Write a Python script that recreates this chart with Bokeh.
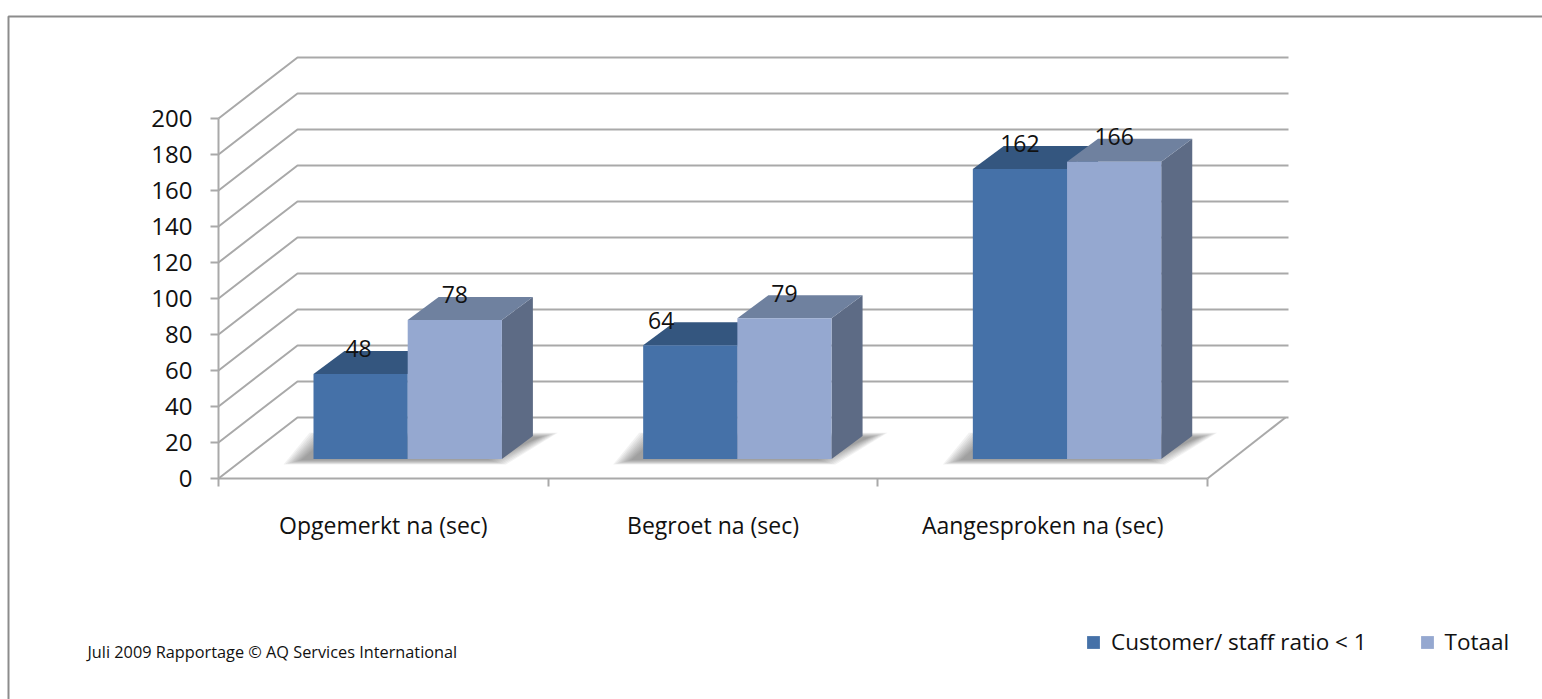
from bokeh.core.properties import value
from bokeh.embed import file_html
from bokeh.models import (BoxAnnotation, ColumnDataSource, FixedTicker, Label, Legend,
                          LegendItem, Range1d)
from bokeh.plotting import figure
from bokeh.resources import INLINE

# Chart values
categories = ["Opgemerkt na (sec)", "Begroet na (sec)", "Aangesproken na (sec)"]
series_names = ["Customer/ staff ratio < 1", "Totaal"]
customer_staff = [48, 64, 162]
totaal = [78, 79, 166]
y_ticks = [0, 20, 40, 60, 80, 100, 120, 140, 160, 180, 200]
footer = "Juli 2009 Rapportage © AQ Services International"

FONT = "Open Sans"
GRID = "#a9a9a9"
AXIS_TEXT = "#111111"

# Pixel layout of the canvas and the oblique projection
W, H = 1542, 699
ORIGIN_X, ORIGIN_Y = 218, 478
CAT_PX = 329.67          # width of one category
VAL_PX = 1.8             # pixels per unit of value
WALL_DX, WALL_DY = 79 / CAT_PX, 61 / VAL_PX      # depth of the floor
WALL_END = (1288 - ORIGIN_X) / CAT_PX
FLOOR_END = (1285 - ORIGIN_X) / CAT_PX
BAR_W = 94.2 / CAT_PX
BAR_DX, BAR_DY = 31 / CAT_PX, 23 / VAL_PX        # depth of a bar
BAR_X0 = 95 / CAT_PX     # left edge of the first bar inside its category
BASE = 10.8              # bar foot above the front floor edge
TOP_LIFT = 10.0          # value origin of the bar tops

p = figure(width=W, height=H, output_backend="svg", toolbar_location=None,
           x_range=Range1d(-ORIGIN_X / CAT_PX, (W - ORIGIN_X) / CAT_PX),
           y_range=Range1d((ORIGIN_Y - H) / VAL_PX, ORIGIN_Y / VAL_PX),
           min_border=0)
p.outline_line_color = None
p.grid.visible = False
p.background_fill_color = "white"

# Value axis, pinned to the front-left corner of the floor
ya = p.yaxis[0]
ya.fixed_location = 0
ya.ticker = FixedTicker(ticks=y_ticks)
ya.bounds = (0, 200)
ya.axis_line_color = GRID
ya.axis_line_width = 2
ya.major_tick_line_color = GRID
ya.major_tick_line_width = 2
ya.major_tick_in = 0
ya.major_tick_out = 8
ya.minor_tick_line_color = None
ya.major_label_text_font = FONT
ya.major_label_text_font_size = "24px"
ya.major_label_text_color = AXIS_TEXT
ya.major_label_standoff = 18

# Category axis: ticks sit on the category boundaries, labels between them
centres = [i + 0.5 for i in range(len(categories))]
xa = p.xaxis[0]
xa.fixed_location = 0
xa.ticker = FixedTicker(ticks=centres, minor_ticks=list(range(len(categories) + 1)))
xa.major_label_overrides = dict(zip(centres, categories))
xa.bounds = (0, len(categories))
xa.axis_line_color = GRID
xa.axis_line_width = 2
xa.major_tick_line_color = None
xa.major_tick_in = 0
xa.major_tick_out = 0
xa.minor_tick_line_color = GRID
xa.minor_tick_line_width = 2
xa.minor_tick_in = 0
xa.minor_tick_out = 8
xa.major_label_text_font = FONT
xa.major_label_text_font_size = "23px"
xa.major_label_text_color = AXIS_TEXT
xa.major_label_standoff = 22

# Back wall gridlines with their slanted side-wall segments
gx = [[0, WALL_DX, WALL_END] for _ in y_ticks]
gy = [[v, v + WALL_DY, v + WALL_DY] for v in y_ticks]
p.multi_line(gx, gy, line_color=GRID, line_width=2)

# Right-hand floor edge
p.line([len(categories), FLOOR_END], [0, WALL_DY], line_color=GRID, line_width=2)


def shadow(x0, x1):
    """Soft floor shadow behind one pair of bars, built from stacked layers."""
    low = BASE - 2.5
    high = BASE + 14
    for inset in range(-4, 16, 2):
        in_x = inset / CAT_PX
        in_y = inset * 0.25 / VAL_PX
        slant = 26 / CAT_PX
        xs = [x0 - slant + in_x, x1 - in_x, x1 + 52 / CAT_PX - in_x, x0 + in_x]
        ys = [low + in_y, low + in_y, high - in_y, high - in_y]
        p.patch(xs, ys, fill_color="#555555", fill_alpha=0.08, line_color=None)


def bar_faces(left, tops, front, roof, side):
    """Draw the front, roof and side of one bar per category and return the front renderer."""
    right = [x + BAR_W for x in left]
    roof_xs = [[l, l + BAR_DX, r + BAR_DX, r] for l, r in zip(left, right)]
    roof_ys = [[t, t + BAR_DY, t + BAR_DY, t] for t in tops]
    side_xs = [[r, r + BAR_DX, r + BAR_DX, r] for r in right]
    side_ys = [[BASE, BASE + BAR_DY, t + BAR_DY, t] for t in tops]
    p.patches(side_xs, side_ys, fill_color=side, line_color=None)
    p.patches(roof_xs, roof_ys, fill_color=roof, line_color=None)
    return p.quad(left=left, right=right, bottom=BASE, top=tops,
                  fill_color=front, line_color=None)


left_a = [i + BAR_X0 for i in range(len(categories))]
left_b = [x + BAR_W for x in left_a]
tops_a = [v + TOP_LIFT for v in customer_staff]
tops_b = [v + TOP_LIFT for v in totaal]

for start_a, start_b in zip(left_a, left_b):
    shadow(start_a, start_b + BAR_W)

r_a = bar_faces(left_a, tops_a, "#4571a8", "#34567f", "#3a5d8a")
r_b = bar_faces(left_b, tops_b, "#95a8d0", "#6f819f", "#5d6b85")

# Value labels on the bar roofs
label_x = [x + BAR_W / 2 for x in left_a + left_b]
label_x[0] -= 2 / CAT_PX
label_x[1] -= 29 / CAT_PX
label_y = [t + 14 for t in tops_a + tops_b]
labels = ColumnDataSource(dict(x=label_x, y=label_y,
                               text=[str(v) for v in customer_staff + totaal]))
p.text("x", "y", text="text", source=labels, text_align="center", text_baseline="middle",
       text_font=value(FONT), text_font_size="23px", text_color="#111111")

# Legend below the chart
legend = Legend(items=[LegendItem(label=series_names[0], renderers=[r_a]),
                       LegendItem(label=series_names[1], renderers=[r_b])],
                orientation="horizontal", location=(1085, H - 657),
                background_fill_alpha=0, border_line_color=None,
                glyph_width=16, glyph_height=16, label_standoff=10, spacing=52,
                label_text_font=FONT, label_text_font_size="22.5px",
                label_text_color="#111111", padding=0, margin=0)
p.add_layout(legend, "center")

# Footer note
p.add_layout(Label(x=87, y=651, x_units="canvas", y_units="canvas", text=footer,
                   text_font=FONT, text_font_size="16.3px", text_color="#111111",
                   text_baseline="middle"))

# Chart border, open towards the page edges
p.add_layout(BoxAnnotation(left=8, top=16, right=W + 20, bottom=H + 20,
                           left_units="canvas", right_units="canvas",
                           top_units="canvas", bottom_units="canvas",
                           fill_alpha=0, line_color="#8c8c8c", line_alpha=1, line_width=2))

open("out.html", "w").write(file_html(p, INLINE))
